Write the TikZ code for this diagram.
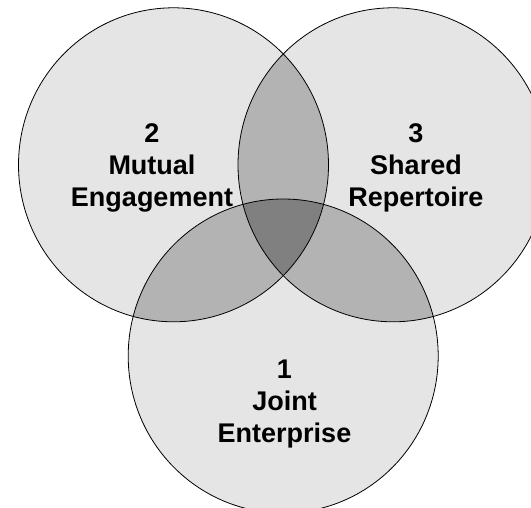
\documentclass[tikz,border=0pt]{standalone}
\usepackage{fontspec}
\setmainfont{Liberation Sans}
\definecolor{one}{HTML}{E5E5E5}
\definecolor{two}{HTML}{B3B3B3}
\definecolor{three}{HTML}{808080}
\begin{document}
\begin{tikzpicture}[x=1pt,y=1pt,
  outline/.style={line width=0.8pt, draw=black},
  lbl/.style={font=\fontsize{27}{32}\selectfont\bfseries, align=center, text=black, inner sep=0pt}]
\useasboundingbox (0,0) rectangle (531,-508);
\clip (0,0) rectangle (531,-508);
\coordinate (L) at (173.5,-164.8);
\coordinate (R) at (393,-164.8);
\coordinate (B) at (283.2,-356);
% single regions
\fill[one] (L) ellipse [x radius=155pt, y radius=157pt];
\fill[one] (R) ellipse [x radius=155pt, y radius=157pt];
\fill[one] (B) ellipse [x radius=155pt, y radius=157pt];
% pairwise overlaps
\begin{scope}
  \clip (L) ellipse [x radius=155pt, y radius=157pt];
  \fill[two] (R) ellipse [x radius=155pt, y radius=157pt];
  \fill[two] (B) ellipse [x radius=155pt, y radius=157pt];
\end{scope}
\begin{scope}
  \clip (R) ellipse [x radius=155pt, y radius=157pt];
  \fill[two] (B) ellipse [x radius=155pt, y radius=157pt];
\end{scope}
% triple overlap
\begin{scope}
  \clip (L) ellipse [x radius=155pt, y radius=157pt];
  \clip (R) ellipse [x radius=155pt, y radius=157pt];
  \fill[three] (B) ellipse [x radius=155pt, y radius=157pt];
\end{scope}
% outlines
\draw[outline] (L) ellipse [x radius=155pt, y radius=157pt];
\draw[outline] (R) ellipse [x radius=155pt, y radius=157pt];
\draw[outline] (B) ellipse [x radius=155pt, y radius=157pt];
% labels
\node[lbl] (t2) at (152,-167.5) {2\\Mutual\\Engagement};
\node[lbl] (t3) at (416,-167.5) {3\\Shared\\Repertoire};
\node[lbl] (t1) at (284.5,-404) {1\\Joint\\Enterprise};
\end{tikzpicture}
\end{document}
